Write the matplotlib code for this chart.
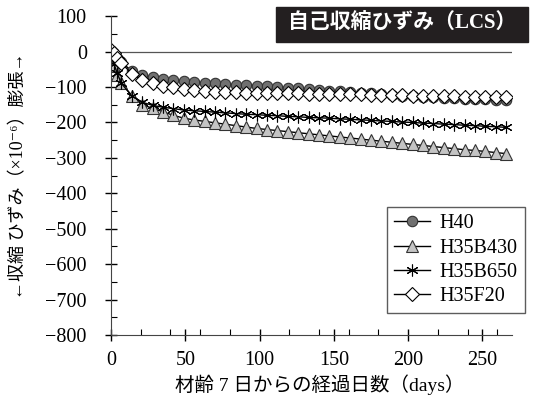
import matplotlib
matplotlib.use("Agg")
import matplotlib.pyplot as plt
from matplotlib.ticker import MultipleLocator
from matplotlib.patches import Rectangle

plt.rcParams['font.family'] = ['Liberation Serif', 'Noto Sans CJK JP', 'DejaVu Sans']

days = [0, 2, 4, 7, 14, 21, 28, 35, 42, 49, 56, 63, 70, 77, 84, 91, 98, 105,
        112, 119, 126, 133, 140, 147, 154, 161, 168, 175, 182, 189, 196, 203,
        210, 217, 224, 231, 238, 245, 252, 259, 266]

h40 = [0, -8, -18, -30, -55, -66, -72, -77, -80, -83, -86, -88, -90, -92, -94,
       -95, -96, -98, -100, -102, -104, -106, -108, -110, -112, -114, -116,
       -118, -120, -122, -124, -126, -128, -129, -131, -132, -133, -134, -135,
       -136, -137]
h35b430 = [-5, -40, -65, -88, -125, -150, -160, -170, -180, -188, -193, -197,
           -201, -205, -209, -213, -217, -220, -223, -226, -229, -232, -235,
           -238, -241, -244, -247, -250, -253, -256, -259, -262, -265, -268,
           -271, -274, -277, -279, -282, -285, -288]
h35b650 = [-8, -35, -60, -90, -125, -143, -152, -157, -161, -165, -167, -169,
           -171, -173, -175, -177, -178, -180, -181, -183, -184, -186, -187,
           -188, -190, -191, -193, -194, -196, -197, -199, -200, -202, -203,
           -205, -206, -208, -209, -211, -212, -214]
h35f20 = [5, -5, -17, -33, -62, -80, -90, -96, -101, -105, -108, -111, -113,
          -114, -115, -116, -116, -117, -117, -118, -118, -119, -119, -120,
          -120, -121, -121, -122, -122, -123, -123, -124, -125, -125, -126,
          -126, -127, -127, -128, -128, -129]

labels = ["H40", "H35B430", "H35B650", "H35F20"]
title = "自己収縮ひずみ（LCS）"
xlabel = "材齢 7 日からの経過日数（days）"
ylabel = "←収縮 ひずみ（×10⁻⁶）膨張→"

fig = plt.figure(figsize=(5.34, 4.05), dpi=100)
ax = fig.add_axes([0.208, 0.173, 0.751, 0.787])

ax.axhline(0, color="#555555", lw=0.9, zorder=1)

ax.plot(days, h40, color="black", lw=1, marker="o", ms=7.5,
        mfc="#707070", mec="#333333", mew=0.8, label=labels[0])
ax.plot(days, h35b430, color="black", lw=1, marker="^", ms=8.5,
        mfc="#c4c4c4", mec="#333333", mew=0.8, label=labels[1])
ax.plot(days, h35b650, color="black", lw=1, marker=(6, 2, 0), ms=8.5,
        mec="black", mew=0.8, label=labels[2])
ax.plot(days, h35f20, color="black", lw=1, marker="D", ms=7,
        mfc="white", mec="black", mew=0.8, label=labels[3])

ax.set_xlim(0, 270)
ax.set_ylim(-800, 100)
ax.xaxis.set_major_locator(MultipleLocator(50))
ax.xaxis.set_minor_locator(MultipleLocator(20))
ax.yaxis.set_major_locator(MultipleLocator(100))
ax.yaxis.set_minor_locator(MultipleLocator(50))
ax.tick_params(which="major", direction="inout", length=9, width=1,
               labelsize=14.5)
ax.tick_params(which="minor", direction="in", length=4, width=0.8)
ax.tick_params(axis="y", which="major", pad=13)
ax.tick_params(axis="x", which="major", pad=7)

for s in ["top", "right"]:
    ax.spines[s].set_visible(False)
for s in ["left", "bottom"]:
    ax.spines[s].set_color("#444444")

ax.set_xlabel(xlabel, fontsize=14)
ax.xaxis.set_label_coords(0.52, -0.125)
ax.set_ylabel(ylabel, fontsize=13)
ax.yaxis.set_label_coords(-0.21, 0.5)

leg = ax.legend(loc="lower right", bbox_to_anchor=(1.032, 0.069),
                borderaxespad=0, fontsize=14.5, frameon=True, fancybox=False,
                handlelength=1.8, labelspacing=0.25, handletextpad=0.5,
                borderpad=0.35)
leg.get_frame().set_edgecolor("#333333")
leg.get_frame().set_linewidth(1)

fig.patches.append(Rectangle((0.517, 0.896), 0.472, 0.087,
                             transform=fig.transFigure, color="#231f20"))
fig.text(0.753, 0.940, title, color="white", fontsize=15,
         fontweight="bold", ha="center", va="center")

fig.savefig("out.png", dpi=100)
